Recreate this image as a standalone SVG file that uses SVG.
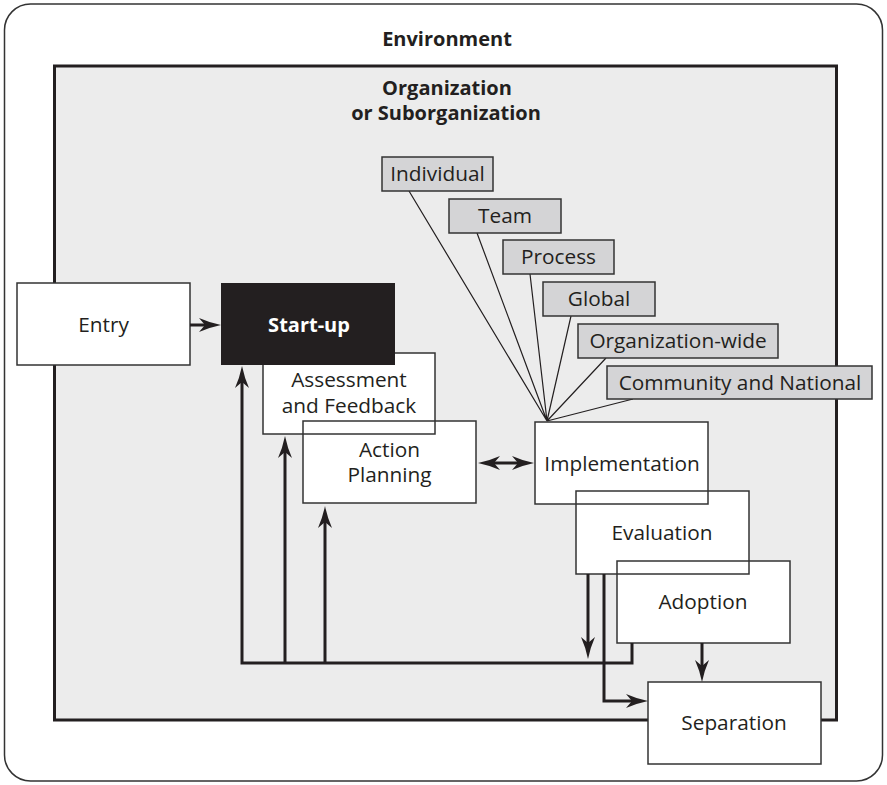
<svg xmlns="http://www.w3.org/2000/svg" width="887" height="785" viewBox="0 0 887 785">
  <style>
    text { font-family: "Open Sans", "Noto Sans", "Liberation Sans", sans-serif; font-size: 20.8px; fill: #231f20; text-anchor: middle; }
    .title { font-weight: bold; font-size: 20px; }
    .box { fill: none; stroke: #333; stroke-width: 1.5; }
    .fillw { fill: #fff; stroke: none; }
    .tag { fill: #d4d4d6; stroke: #333; stroke-width: 1.5; }
    .fan { stroke: #231f20; stroke-width: 1.2; fill: none; }
    .flow { stroke: #231f20; stroke-width: 3; fill: none; marker-end: url(#arrow); }
  </style>
  <defs>
    <marker id="arrow" viewBox="0 0 22 14" refX="12" refY="7" markerWidth="22" markerHeight="14" markerUnits="userSpaceOnUse" orient="auto-start-reverse">
      <path d="M22,7 Q10,4.5 0,0 L6,7 L0,14 Q10,9.5 22,7 Z" fill="#231f20"/>
    </marker>
  </defs>

  <!-- environment frame -->
  <g id="environment">
    <rect x="4.5" y="4" width="878" height="777" rx="26" fill="#fff" stroke="#333" stroke-width="1.5"/>
    <text class="title" x="447" y="46">Environment</text>
  </g>

  <!-- organization frame -->
  <g id="organization">
    <rect x="54.5" y="66" width="782" height="654" fill="#ececec" stroke="#231f20" stroke-width="3"/>
    <text class="title" x="447" y="95">Organization</text>
    <text class="title" x="446" y="120">or Suborganization</text>
  </g>

  <!-- lines fanning out from implementation to the intervention levels -->
  <g id="fan">
    <path class="fan" d="M547,421 L409,191 M547,421 L477,233 M547,421 L530,274 M547,421 L571,316 M547,421 L606,358 M547,421 L633,399"/>
  </g>

  <!-- white backgrounds of the phase boxes (outlines drawn above, so overlaps stay visible) -->
  <g id="fills">
    <rect class="fillw" x="263" y="353" width="172" height="81"/>
    <rect class="fillw" x="303" y="421" width="173" height="82"/>
    <rect class="fillw" x="535" y="422" width="173" height="82"/>
    <rect class="fillw" x="576" y="491" width="173" height="83"/>
    <rect class="fillw" x="617" y="561" width="173" height="82"/>
    <rect class="fillw" x="648" y="682" width="173" height="82"/>
  </g>

  <g id="assessment">
    <rect class="box" x="263" y="353" width="172" height="81"/>
    <text x="349" y="387">Assessment</text>
    <text x="349" y="413">and Feedback</text>
  </g>
  <g id="action-planning">
    <rect class="box" x="303" y="421" width="173" height="82"/>
    <text x="389.5" y="457">Action</text>
    <text x="389.5" y="482">Planning</text>
  </g>
  <g id="implementation">
    <rect class="box" x="535" y="422" width="173" height="82"/>
    <text x="622" y="471">Implementation</text>
  </g>
  <g id="evaluation">
    <rect class="box" x="576" y="491" width="173" height="83"/>
    <text x="662" y="540">Evaluation</text>
  </g>
  <g id="adoption">
    <rect class="box" x="617" y="561" width="173" height="82"/>
    <text x="703" y="609">Adoption</text>
  </g>
  <g id="separation">
    <rect class="box" x="648" y="682" width="173" height="82"/>
    <text x="734" y="730">Separation</text>
  </g>

  <g id="entry">
    <rect x="17" y="283" width="173" height="82" fill="#fff" stroke="#333" stroke-width="1.5"/>
    <text x="103.5" y="332">Entry</text>
  </g>
  <g id="start-up">
    <rect x="221" y="283" width="174" height="82" fill="#231f20"/>
    <text class="title" x="309" y="332" style="fill:#fff">Start-up</text>
  </g>

  <!-- intervention levels -->
  <g id="individual">
    <rect class="tag" x="382" y="157" width="111" height="34"/>
    <text x="437.5" y="181">Individual</text>
  </g>
  <g id="team">
    <rect class="tag" x="449" y="199" width="112" height="34"/>
    <text x="505" y="223">Team</text>
  </g>
  <g id="process">
    <rect class="tag" x="503" y="240" width="111" height="34"/>
    <text x="558.5" y="264">Process</text>
  </g>
  <g id="global">
    <rect class="tag" x="543" y="282" width="112" height="34"/>
    <text x="599" y="306">Global</text>
  </g>
  <g id="organization-wide">
    <rect class="tag" x="578" y="324" width="200" height="34"/>
    <text x="678" y="348">Organization-wide</text>
  </g>
  <g id="community-national">
    <rect class="tag" x="607" y="366" width="265" height="33"/>
    <text x="740" y="390">Community and National</text>
  </g>

  <!-- phase-to-phase flow -->
  <g id="connectors">
    <path class="flow" d="M190,325 H211"/>
    <path class="flow" d="M632,643 V663 H242 V376"/>
    <path class="flow" d="M285,663 V446"/>
    <path class="flow" d="M325,663 V516"/>
    <path class="flow" d="M488,463 H524" style="marker-start:url(#arrow)"/>
    <path class="flow" d="M588,574 V649"/>
    <path class="flow" d="M604,574 V701 H638"/>
    <path class="flow" d="M702,643 V672"/>
  </g>
</svg>
